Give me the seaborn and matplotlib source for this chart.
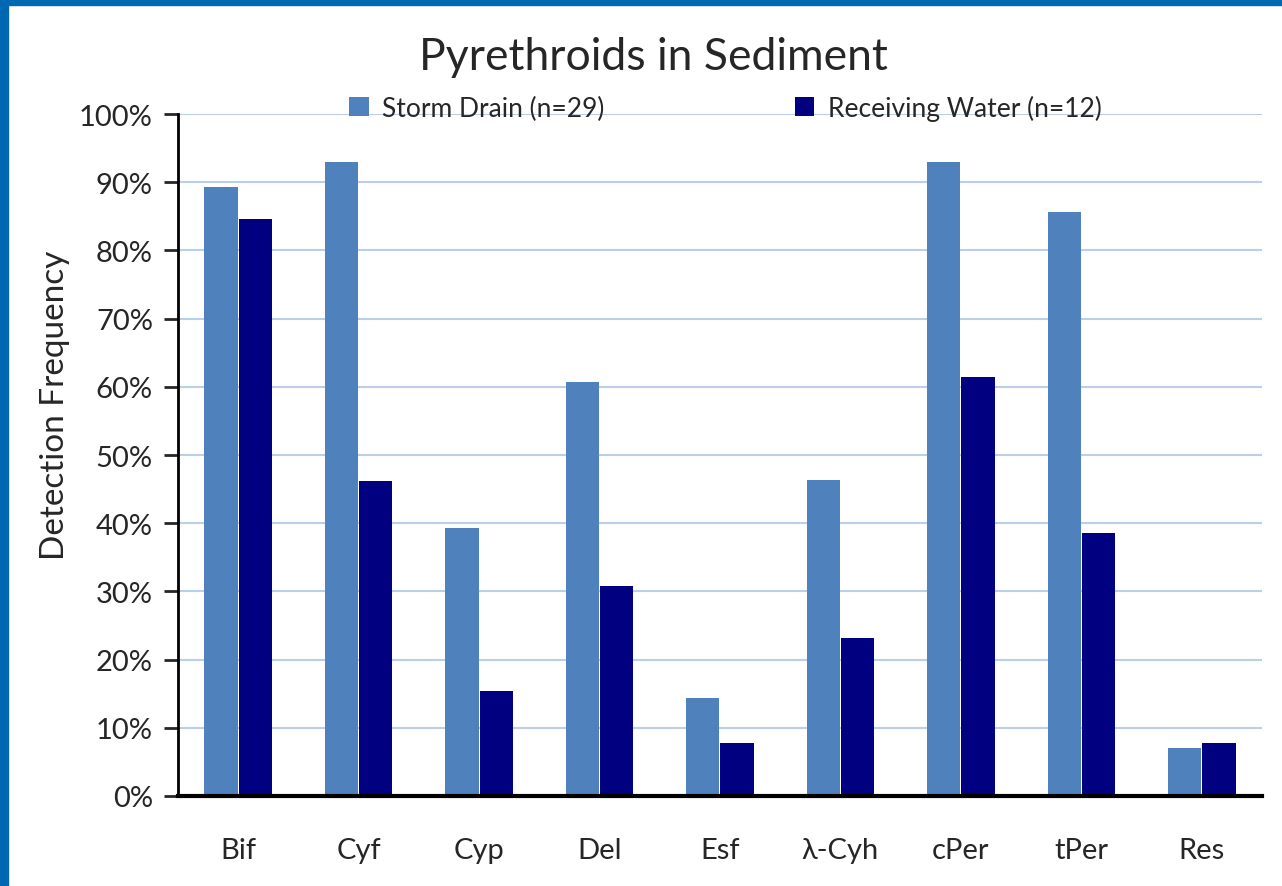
import matplotlib
matplotlib.use("Agg")
import matplotlib.pyplot as plt
import seaborn as sns
import pandas as pd
from matplotlib.patches import Rectangle
from matplotlib.ticker import PercentFormatter

# data (percent detected)
compounds = ["Bif", "Cyf", "Cyp", "Del", "Esf", "λ-Cyh", "cPer", "tPer", "Res"]
storm_drain = [89.3, 92.9, 39.3, 60.7, 14.3, 46.4, 92.9, 85.7, 7.1]
receiving_water = [84.6, 46.2, 15.4, 30.8, 7.7, 23.1, 61.5, 38.5, 7.7]
series_names = ["Storm Drain (n=29)", "Receiving Water (n=12)"]

df = pd.DataFrame({
    "compound": compounds * 2,
    "freq": storm_drain + receiving_water,
    "site": [series_names[0]] * len(compounds) + [series_names[1]] * len(compounds),
})

sns.set_style("white")
plt.rcParams["font.family"] = ["Lato", "DejaVu Sans"]

fig = plt.figure(figsize=(12.82, 8.87), dpi=100)
ax = fig.add_axes([0.1388, 0.1015, 0.8456, 0.7688])

sns.barplot(data=df, x="compound", y="freq", hue="site", ax=ax,
            palette=["#4F81BD", "#000080"], width=0.57, gap=0.03,
            saturation=1, edgecolor="none")

ax.set_ylim(0, 100)
ax.set_yticks(range(0, 101, 10))
ax.yaxis.set_major_formatter(PercentFormatter(decimals=0))
ax.grid(axis="y", color="#BCCFEA", linewidth=1.5)
ax.set_axisbelow(True)

for s in ["top", "right"]:
    ax.spines[s].set_visible(False)
ax.spines["left"].set_color("black")
ax.spines["left"].set_linewidth(2)
ax.spines["bottom"].set_color("black")
ax.spines["bottom"].set_linewidth(3)
ax.spines["bottom"].set_zorder(5)

ax.tick_params(axis="y", left=True, length=10, width=2, labelsize=21, pad=8)
ax.tick_params(axis="x", bottom=False, labelsize=21, pad=26)
ax.set_xlabel("")
ax.set_ylabel("Detection Frequency", fontsize=24)
ax.yaxis.set_label_coords(-0.1, 0.575)

leg = ax.legend(loc="upper center", bbox_to_anchor=(0.505, 1.063), ncol=2,
                frameon=False, fontsize=19, handlelength=0.75, handleheight=0.75,
                handletextpad=0.5, columnspacing=7.2)

fig.text(0.51, 0.935, "Pyrethroids in Sediment", ha="center", va="center",
         fontsize=32)

# blue slide border on top and left
fig.patches.append(Rectangle((0, 1 - 6 / 887), 1, 6 / 887, transform=fig.transFigure,
                             color="#0068B3", zorder=10))
fig.patches.append(Rectangle((0, 0), 8 / 1282, 1, transform=fig.transFigure,
                             color="#0068B3", zorder=10))

fig.savefig("out.png", dpi=100)
